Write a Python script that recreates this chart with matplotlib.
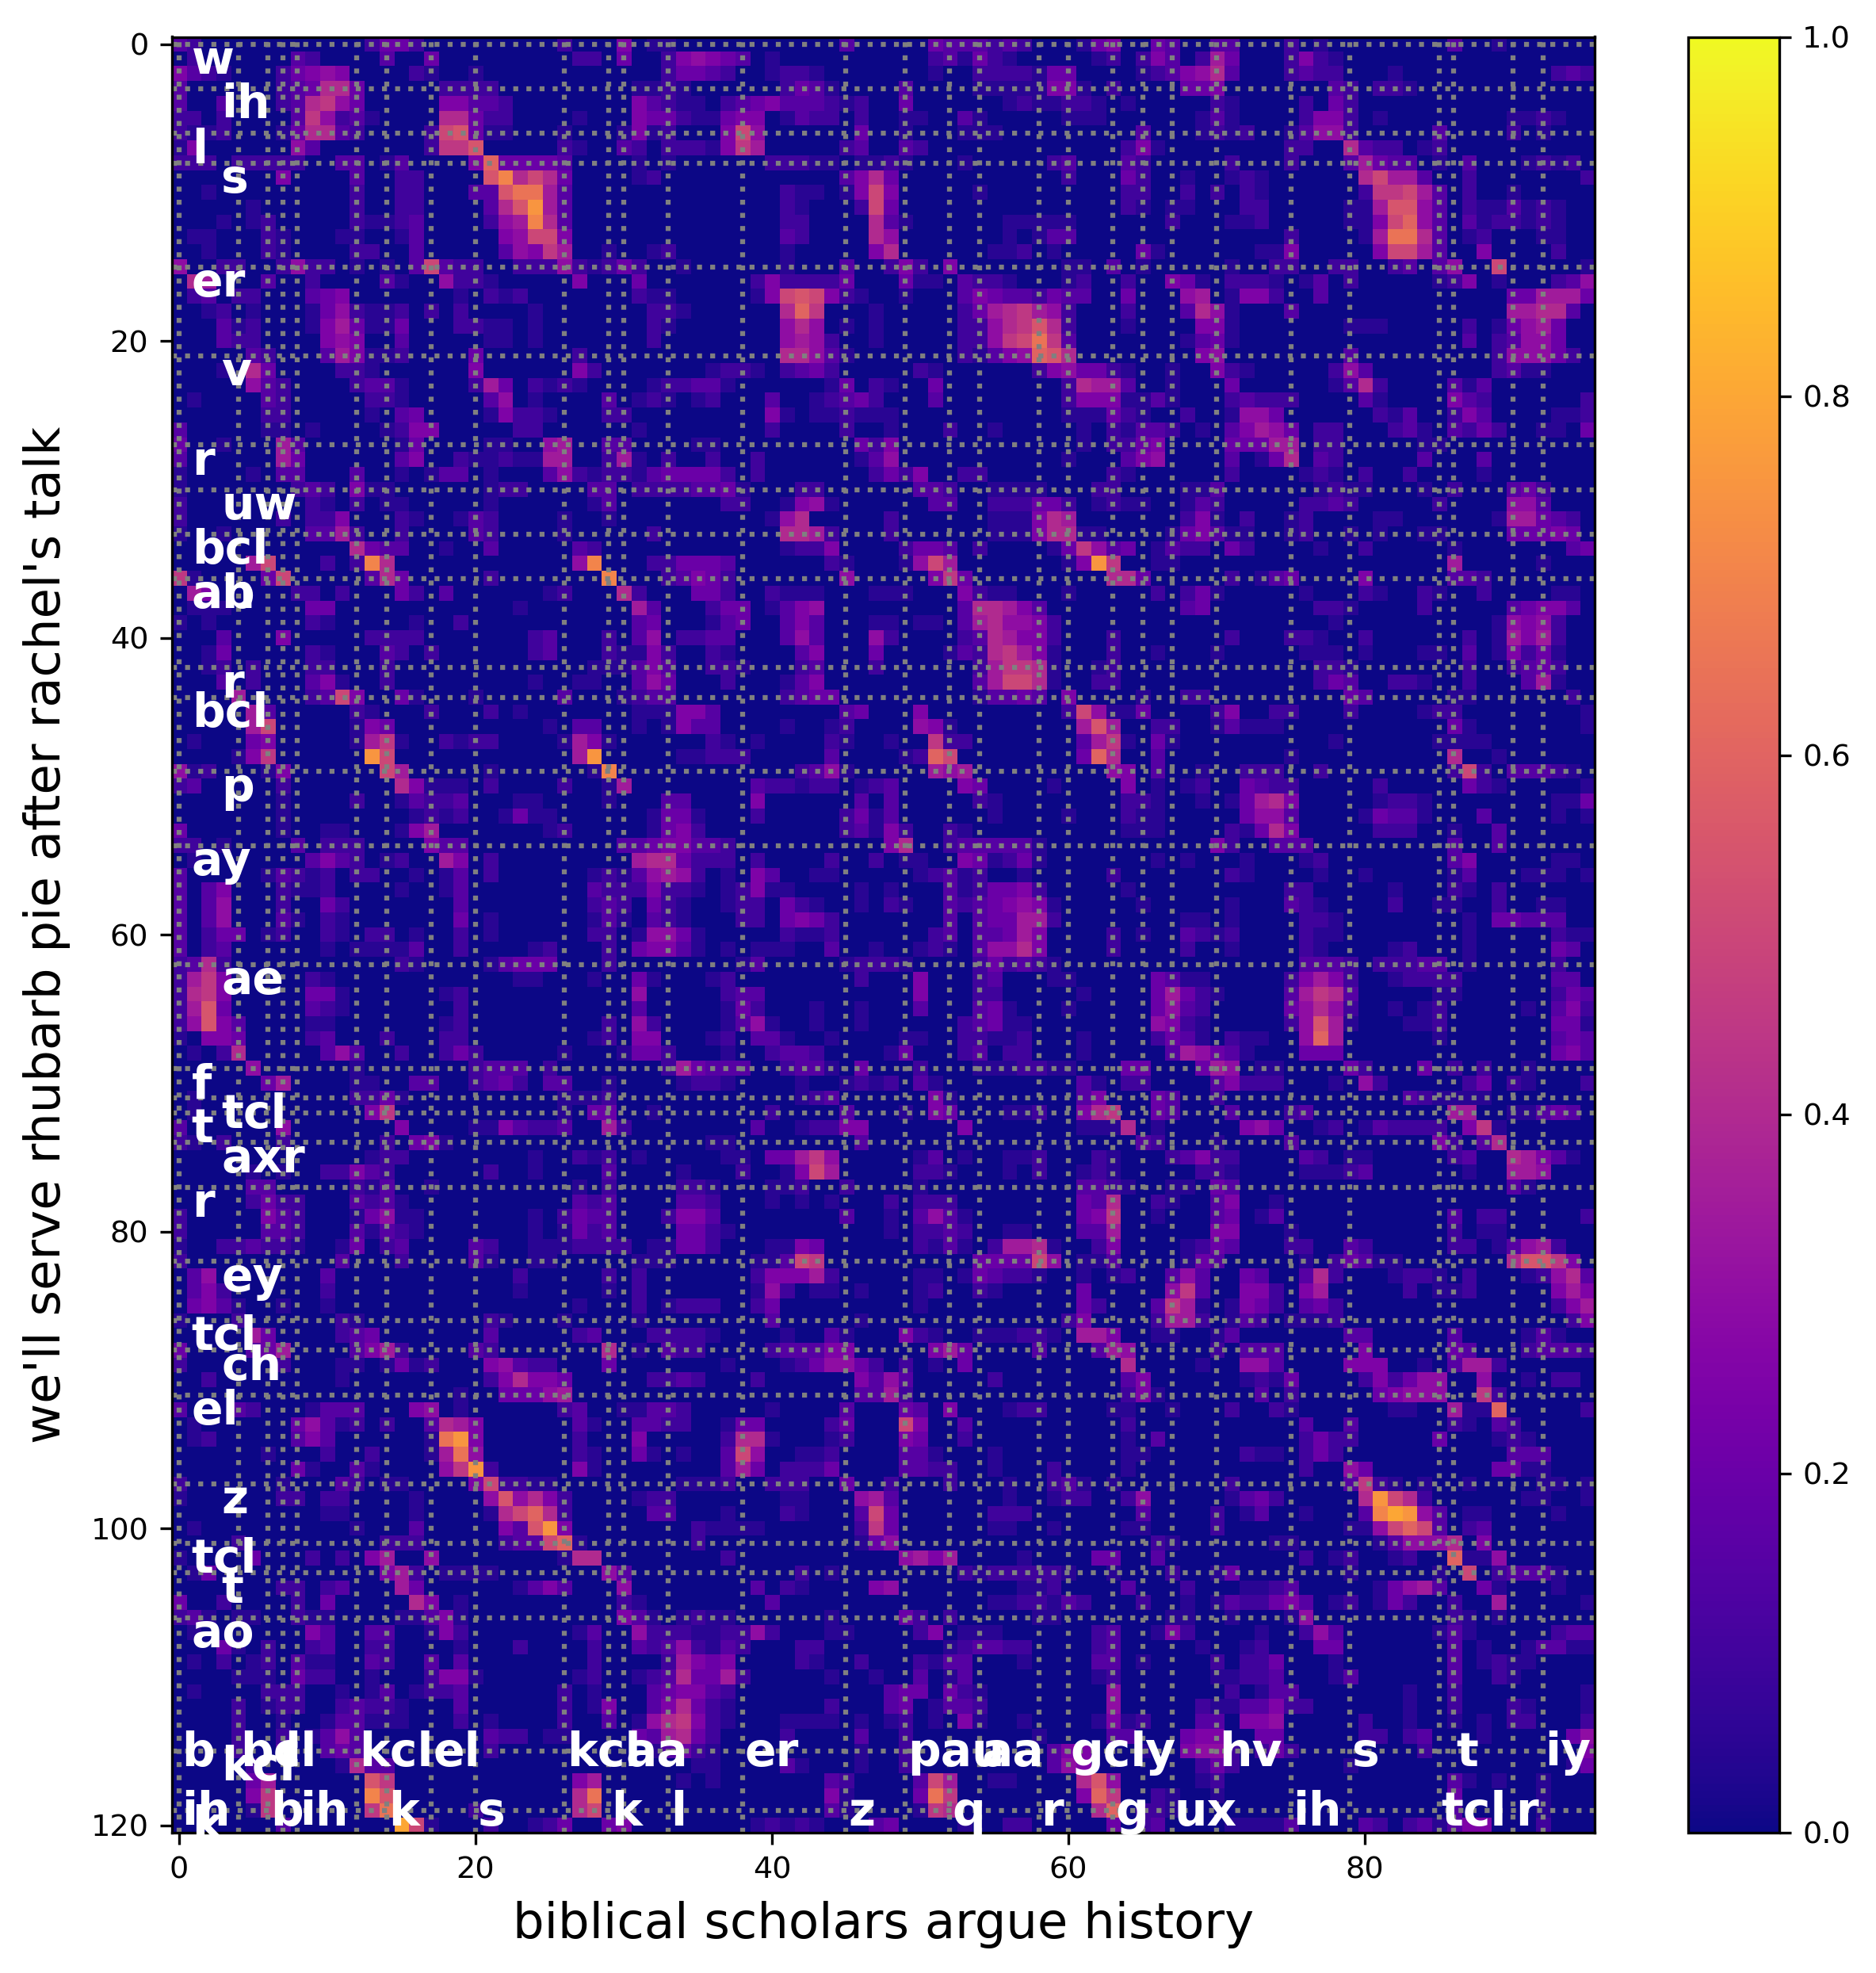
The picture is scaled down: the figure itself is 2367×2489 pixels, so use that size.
import matplotlib
matplotlib.use('Agg')
import matplotlib.pyplot as plt
import numpy as np

# alignment grid, one line per row: "col:levels", each level a base-36 digit in steps of 0.05
cell_levels = [
    "0:3 1:2 13:2 14:44 16:2 26:2 30:5 32:11 45:3 51:433 54:32 56:32 61:1 62:45 66:43 70:33 75:2 77:1 86:3 89:1",
    "1:2 8:32 14:3 17:4 27:22 30:4 33:25654 38:3 40:1 51:23 53:14 55:21 62:12 63:2 65:25 67:3 69:27 71:4 75:25 77:2 78:1",
    "0:5321 7:2456 11:5 16:2 17:1 20:1 33:2 34:443 37:2 40:1 41:221 51:1 54:2222 58:144 65:1 66:2 67:3 68:568 71:3 75:2 76:3 77:22 82:1 93:232",
    "0:3 7:234 10:88 12:4 18:2222 31:11 33:2 34:1 41:243 44:1 49:3 54:11111 59:55 61:1 63:2 68:445 78:32 81:22 83:1",
    "0:3 3:3 7:23 9:896 12:4 18:55 20:332 31:5 32:32 34:11 37:2345 41:333 44:21 46:2 49:4 56:1 57:21 59:122 62:1 64:1 70:21 76:2 78:42",
    "0:22 3:2 8:3 9:96 11:23 13:1 18:88 20:42 22:2 27:1 31:5 32:44 34:211 37:455 41:1 42:322 46:2 49:11 53:31 60:111 62:1 69:131 76:2 77:552 81:1 90:11 92:21",
    "0:2112 7:1 8:488 11:32 17:2 18:ab4 21:11 26:1 30:15 32:1 33:2 37:5a6 46:4 49:1 53:111 65:3 69:121 72:2 75:1 76:3 77:662 85:3 90:2 92:1",
    "0:15 8:63 17:2 18:99b 26:2 27:1 30:32 33:2221 37:597 45:23 49:32 64:25 66:1 75:22 79:83 81:22 84:1 85:2",
    "0:222 4:22222 11:33 14:1 15:3 20:5c4444 26:3 31:1 33:1 40:222 43:11 46:11 48:21 53:1 59:23 64:32 71:2 75:2 79:3743 83:3 85:1 87:3 91:121 94:2",
    "7:5 12:3 15:22 21:be8a84 31:12 45:3584 60:2 64:42 68:1 71:1 72:21 80:8a77 84:3 87:2 95:2",
    "2:1 12:2 15:22 20:33bdd7 26:3 41:211 45:15a5 54:1 64:22 68:2 70:2 72:21 80:299a 84:73 87:2 90:1",
    "5:1 12:2 15:22 21:38bf7 26:3 41:21 46:2a4 64:21 67:11 72:22 79:11 81:7bb6 85:3 87:211 90:3121",
    "3:1 5:12 12:211 15:23 21:26 23:7e8 26:3 41:22 47:831 56:111 59:11 67:2 71:112 79:11 81:5ac6 85:3 87:312 90:2121",
    "1:11 6:21 11:11 15:13 22:56aa5 41:32 47:86 56:1 58:133 75:2 80:1 81:7dd8 85:3 87:12 92:11",
    "2:1 6:21 12:22 16:3 22:36597 29:1 32:12 41:1 47:58 55:112 59:1 65:41 73:11 75:5 81:5aa7 85:3 88:5 93:2",
    "0:6 3:22 7:262 10:2 12:1 14:1 16:3a322 23:222627 28:1 29:2 30:4 31:2 34:1 41:1 45:3 48:252 52:5 60:11 63:3 65:1 71:1 74:22 78:22 82:23 85:36 89:a 95:1",
    "1:87 6:3 9:2 14:31 18:6221 27:5 31:4 39:25222 44:24 49:41 51:1 53:3221 60:12 64:2 67:54 69:1 71:222 74:1 76:13 79:2 85:125 89:1 93:236",
    "1:23 4:22 9:345 19:1 21:212 31:211 39:15aba5 45:21 49:1 53:35433 58:2433 64:4 68:67 71:1 72:552 77:3 90:4477 94:74",
    "2:12 5:1 9:1462 13:112 17:2 19:2 24:1 32:22 34:1 41:8c9 47:1 53:247897 59:62 64:2 68:386 71:1 75:3 90:7788 94:3",
    "3:31 5:2 9:1574 13:114 19:221 22:1 24:1 32:21 41:686 45:1 47:1 53:2268 57:9b 59:82 64:1 69:551 79:111 87:2 89:1 90:4674",
    "3:32 5:2 10:565 15:3 21:11 24:1 32:2 41:6762 47:1 53:226 56:9ad 59:93 68:134 71:1 87:3 89:2 90:3664",
    "5:32 10:375 13:11 15:2 20:4 27:2 41:8863 45:1 53:2135 57:6cb8 69:56 79:3 89:26664 94:2",
    "3:1 5:84 11:2 12:21 20:5 27:52 36:1221 41:2342 50:21 58:2564 62:4 63:2 64:1 67:1 70:521 78:263 89:2311",
    "5:632 12:2331 20:27 22:4 24:212 27:1 32:12233 37:1 44:14 47:21 51:4 60:2877 64:3 67:1 71:4 78:1 79:382 86:313",
    "1:1 6:32 13:221 21:36 24:1 29:3 31:12 33:1 35:12 40:3 43:1234 47:2 51:3 60:2555 64:113 67:1 71:23222 80:31 86:532 95:2",
    "6:22 13:1 15:34 21:15 23:221 29:2 30:2 40:5 41:1 43:11211 48:1 60:1112 63:4 64:21 68:2 71:1664 81:2 82:13 86:253 93:112",
    "0:3 6:11 9:1 14:125 17:5 23:22 31:1 40:2 45:2 48:1 52:2 55:1 61:1 63:2 64:1 65:33 67:2 69:1 71:35764 77:22 82:23 84:1 86:3 87:2 88:42 92:11 95:4",
    "0:4 3:1 7:73 15:14 21:11 25:67 29:33 35:11 46:425 61:1 63:2 64:245 71:4447 75:7 77:22 84:11",
    "0:3 7:74 15:35 19:2112 23:11 25:77 29:27 31:1 33:2 36:2 39:2 46:136 60:1 64:356 71:3 73:148 77:32 84:3 88:3",
    "0:1 5:1 7:33 12:3 15:1 17:133 21:1 25:3621 29:22 31:1 32:34444 37:2 39:2 47:2425 53:22 63:21 71:2 76:121 80:2 83:2 88:1",
    "0:1 8:232 12:511 21:122 28:33 31:2 32:222333 37:41 42:22 50:332 55:1111 62:22 68:113 77:12 79:1 80:1 84:1 86:2 90:342",
    "0:2 9:21 12:2 14:11 21:1 28:13 37:22 41:1561 51:33 55:2224 59:42 62:12 64:11 68:132 76:223 79:2 85:2 90:663",
    "0:2 7:2 9:225 15:21 19:132 26:1 29:1 40:168 48:2 55:111 58:587 68:251 72:2 75:12 81:11 89:1 90:77432",
    "0:1 3:1 9:337 12:2 15:2 20:32 26:1 32:2 41:8872 48:2 55:111 58:5887 61:1 62:1 67:14531 72:1 75:12 79:1 81:1 84:11 90:44454",
    "12:843 15:3 18:1 21:3 27:32 41:1225 49:2443 54:2 59:149634 66:1 67:322 71:42 77:1 80:2 86:1 94:34",
    "5:7a 10:2 12:2e8 27:6e 32:22444 37:3 44:21 49:1 50:6a7 60:15f9 66:11 86:7 92:1",
    "0:91 6:4a 13:384 21:2 29:e 33:23542 45:6 51:594 63:884 71:2 73:134 80:5 86:332",
    "1:75 8:22 11:2 15:42 18:3 25:12 30:82 35:442 40:2111 47:111 53:5211 60:1 66:2 68:241 76:1 80:21 84:21 88:2 93:11",
    "1:111 9:44 23:1 31:73 36:244 40:1356 53:388753 68:34 77:221 84:2 90:34553",
    "0:1 2:1 9:21 16:1 19:2 31:34 36:134 41:353 47:11 50:11 53:378665 59:2 78:1 89:1 90:6562",
    "3:3 7:5 13:2222 24:23 29:2 31:36 34:22 36:33 41:363 47:62 53:23875 58:52 63:2 71:2 75:221 80:2 87:2 89:1 90:7572",
    "2:14 9:21 14:32 17:2 24:23 29:211 32:5 33:2 36:21 42:35 47:4 52:13 54:2 55:8975 59:1 63:2 66:1 70:1 76:111 80:1 84:11 87:3 89:1 90:5241",
    "2:12 5:2 9:22 14:2 28:1 29:1 30:1 31:35 33:3 36:221 42:23 47:2 54:27 56:9 57:98 59:1 62:12 77:221 87:2 90:2342",
    "3:3 5:2 9:35 11:1 14:2 24:1 27:11 31:364 37:2 41:135 54:37 56:aa8 59:1 62:22 77:243 82:221 87:2 91:371",
    "4:7 9:23a5 15:41 20:1 26:3 30:1 31:23 33:3 41:2344 54:133 57:43 60:5 65:1 68:22 79:43 86:11 94:2",
    "5:73 12:21 17:2 21:2 23:1 31:11 33:1 34:55 36:3 45:34 50:5 60:2a61 64:14 70:25 74:22 79:2 84:122 95:1",
    "5:7a 12:15 14:4 25:1 27:33 31:1 33:1 34:533 41:1 44:12 50:65 52:1 61:7b7 66:22 70:13 72:111 86:41 95:1",
    "1:1 5:45 12:17 14:9 15:1 18:212 21:2 26:1 27:751 36:21 39:1 44:21 48:1 51:922 61:379 64:1 66:41 78:1 85:1111",
    "4:1 5:59 13:fa 27:7f 34:112 37:22 38:2 44:3 49:12 51:ca 61:4c8 66:3 75:1 86:8 89:1",
    "0:612 6:1 7:5 14:a7 21:1 28:1e 42:236 45:1 51:767 63:65 66:3 69:1 72:222 77:2 86:2a2 90:3332 94:1",
    "0:23 7:2 15:851 18:11 21:2 26:2 29:17 39:3221 43:22 46:123 53:54 59:1 64:5 66:1 68:12 72:4322 81:2 87:421 95:1",
    "7:1 12:2 15:1322 19:3 23:1 24:1 29:1 33:33 39:5 46:3 48:3 54:21 64:221 69:1 71:1 72:4785 81:1 82:22 84:1 93:11 95:4",
    "7:1 16:1212 22:1 23:41 25:1 32:144 35:1 39:2 45:24 47:1 48:3 55:1 60:1 64:211 72:4663 80:1 81:4 82:33 84:1 88:3 93:1 95:1",
    "0:4 7:1 10:11 15:157 25:12 32:145 35:2 45:23 47:1 48:52 52:2 53:1 64:111 71:2 72:1 73:485 81:2 82:22 86:1 89:3",
    "0:22 3:1 8:3 10:222 17:533 30:3 31:3 32:45533 37:2 48:58 52:2 53:333 56:33 58:1 70:5 71:2 74:333 86:3 89:3",
    "1:1 9:353 12:2 14:1 15:2 18:75 21:2 31:7 32:884222 39:2 44:2 47:2 49:11 53:54 55:1 56:24 58:1 66:1 68:1 72:1 76:1 77:2 86:35 93:11",
    "0:3 6:1 7:32 9:12 12:22 16:1 18:13 21:2 28:121 31:3 32:676 35:2 37:1 39:53 43:11 50:123 53:12 57:1 63:2 71:21 77:1 80:1 86:13 91:111 95:1",
    "0:3 2:35 7:211 10:2 15:1 18:13 28:322 31:25 33:2 34:2 35:1 37:12 39:5 40:1 41:1 46:1 48:1 52:3 53:12 55:445 58:2 64:1 75:22 82:1 86:21 89:2",
    "0:3 2:36 7:2 10:42 19:3 28:232 32:42 34:1 37:12 39:2 41:421 46:1 48:21 52:32 54:34 56:565 59:1 65:1 71:1 75:32 77:1 82:2 85:11 89:2 92:11",
    "0:3 2:36 7:31 10:21 19:4 21:1 28:131 32:321 38:22 41:4 42:5 43:42 52:3 54:34 56:4 57:77 59:2 68:11 71:1 76:221 87:1 89:44333",
    "0:3 2:244 6:1 7:2 10:21 13:22 16:1 19:2 21:1 28:2 29:2 31:1 32:664 35:1 41:2 42:1 43:12 51:23 54:33 56:4 57:75 63:2 65:1 68:321 71:2 76:211 87:1 93:211",
    "0:3 2:23 10:1 12:1 13:111 16:3 19:2 24:12 29:2 31:4 32:553 35:1 37:1 39:111 44:3 47:1 50:121 54:36 56:6 57:85 63:2 68:2 71:1 76:21 82:12 87:1 93:43",
    "0:2382 15:2 16:1 21:1 22:3444 29:2 38:13 45:1222 49:1 54:2423 58:21 76:3332 81:222 84:33 87:1 93:2",
    "0:279 3:5 9:21 23:11 28:1 31:41 36:12 46:2 50:5 54:23 59:11 66:43 68:11 75:2 76:5752 82:12 84:222 93:33",
    "0:289 3:5 9:441 18:12 31:6 37:233 50:5 54:22 61:1 66:47421 75:3 76:7983 85:11 93:243",
    "0:27b 3:4 9:321 19:2 31:3 37:142 43:1 46:1 50:3 54:341 60:1 66:4 67:632 75:4 76:6862 82:1 84:12 91:1 93:352",
    "0:26b 3:53 9:11 18:12 29:2 31:62 37:1 38:3 39:61 43:1 46:1 53:2341 57:1 66:6521 75:26 77:b7 79:1 83:112 93:441",
    "0:1 2:554 9:23 14:2 18:22 28:12 31:55 36:12 39:331 44:1 49:11 53:2211 57:2 61:1 66:2431 71:211 76:6 77:c7 85:1 93:343",
    "1:1 3:28 10:363 15:2 18:242 26:1 30:1 31:44 33:2 37:1 40:2332 48:14 53:23 56:22 61:1 67:37643 72:1 76:444 93:453",
    "5:6 12:1 20:2333 25:2 33:27433 38:3 41:233 44:1 46:4 50:2 54:1112 58:211 64:44 69:476 73:11 79:42 84:4 86:2 88:2 91:1",
    "6:4 7:7 12:11 16:33 20:2342 25:33 29:1 34:1221 42:1 45:121 48:2 50:31 61:31 64:22 70:352 73:22 78:1 80:6 81:2 87:24 90:21 95:2",
    "1:1 12:2241 26:111 29:2 42:123 51:51 61:35 66:43 70:2 83:3 84:2111 88:1",
    "1:1 13:59 26:1 28:44 32:1 40:2 45:3 49:1 51:54 56:112 61:58a 63:9 66:43 71:3 75:23 86:77 90:113 93:43",
    "0:3 7:6 15:5 20:1 21:15 23:3223 29:72 39:3 42:1 43:22 45:55 53:5 61:1 62:11 64:8 66:1 72:564 77:12 80:13 82:222 85:2 87:59 89:1",
    "0:21 3:2 7:2 14:2 16:45 18:1 36:11 46:3 65:32 70:1 75:3 85:52 88:38",
    "13:1 14:22 24:1 27:212 31:1 37:11 40:447 43:96 50:13 53:1 56:11 58:2 62:22 63:1 67:2352 71:2 76:32 79:11 86:23 90:87531",
    "5:1 7:1 10:225 13:32 21:2 24:1 29:3 34:1 38:2 41:15a7 50:221 56:1 58:2 61:122 63:1 69:221 76:111 79:23 87:1 90:776",
    "5:33 12:213 17:1 27:1 29:2 34:221 40:112 45:2 50:1 61:333 63:2 64:1 67:11 70:43 90:31",
    "5:24 7:22 12:323 15:1 27:323 34:332 40:1 42:1 44:1 48:2 50:222 61:438 63:8 66:21 70:35 74:1",
    "0:2 6:532 12:146 15:11 24:1 26:243 29:3 33:2 34:553 45:3 48:1 50:363 53:1 61:459 66:1 70:34 73:13 86:3 88:22 95:2",
    "0:2 6:332 12:313 15:21 24:1 26:142 29:3 34:442 37:1 48:1 50:223 53:2 56:11 61:337 70:55 75:1 86:2 88:11",
    "0:1 3:22322 8:1 11:14 14:23 20:32 24:111 27:2222 32:11 34:44 36:2 40:11 42:54 50:2131 55:2 56:7 57:781 62:25 68:124 71:3 75:22 79:32 86:22 89:13 91:672",
    "0:2 11:3 15:2 20:31 24:11 31:1 32:11 39:113 42:a9 54:4444 58:a6 61:113 68:1 69:43 76:1 78:243 81:11 90:8bb95",
    "1:36 10:3 23:2 29:2 31:2 39:2555 43:72 50:11 53:14322 58:1 61:1 63:1 64:2 67:36 69:3 72:43 76:38 78:2 82:1 83:2 84:2 85:1 87:2 91:12 93:683",
    "1:35 3:2 10:2 23:1 29:1 31:2 39:16 41:2 43:11 46:1 50:12 54:21 61:4 67:693 72:552 76:57 83:2 85:11 87:2 93:575",
    "1:453 4:1 7:1 10:1 27:1 31:2 33:1222 39:24 50:1 61:42 66:3 67:97 69:1 71:1 72:542 76:342 93:257",
    "0:1 4:2 11:21 21:2 22:1 26:1 31:1 40:3 46:1 60:25 66:2772 71:132 75:1112 94:25",
    "5:74 11:234 21:3 27:23 32:2 33:222 36:1 41:1 44:31 49:5 50:2 51:1 54:11 56:122 59:1 61:775 66:11 70:13 79:33 86:3 91:131",
    "0:4 5:347 12:3 13:57 15:2 20:32 29:8 31:1 33:3 34:22 40:2 41:333 44:55 51:574 58:3 62:37 64:6 70:2 72:33 74:3 80:5 86:43 91:23332",
    "0:2 7:2 11:11 14:1 15:412 21:563 24:22 29:4 37:1 41:1 42:2 43:466 46:42 49:2 51:1 53:4 64:8 69:1 72:663 79:555 84:1 86:377 89:2",
    "2:2 11:1 21:258 24:55 26:4 32:22 34:32 39:2 46:536 49:3 55:2 64:35 72:1 73:21 75:4 80:25 82:2 83:466 88:6 91:1 93:22",
    "19:1 22:444 25:67 46:33 48:72 64:25 66:1 73:3 75:2 81:456 84:6 85:6 88:92",
    "0:3 4:32 9:1333 16:56 19:1 26:23 30:1 31:1 32:33 34:2 40:1 45:3 49:43 52:5 56:1 57:22 63:1 64:1 67:1 71:2 74:21 82:11 86:7 87:11 89:c 95:2",
    "1:1 8:46312 14:2 17:387 20:5 27:31 31:33 33:22 37:144 44:24 49:a5 53:3 64:2 76:3 79:3 86:21 89:32",
    "1:12 8:353 17:1df5 27:2 31:5 37:288 40:1 44:12 49:54 53:2 64:1 66:3 76:24 78:22 85:4 89:12 91:1",
    "6:1 10:2 13:2 17:17d6 27:21 31:41 34:1 37:3a6 42:11 44:2 49:331 55:1 64:11 72:211 76:242 90:333",
    "8:41 12:31 18:69f2 27:51 37:374 41:222 44:4 49:3322 55:1 59:2 64:1 76:2 79:64 89:44 91:11",
    "0:2 7:1 11:32 14:11 20:5a2211 34:1112 40:222 45:4 48:2 52:2 56:1 59:231 63:1 71:2 79:3921 84:1 87:1 92:11 95:1",
    "0:1 7:22 10:22 16:1 21:6b685 26:2 31:1 32:22 41:11 46:673 56:1 59:122 64:26 71:1 72:342 80:8fa8 84:2 91:11 95:1",
    "10:11 16:1 21:18ac82 32:33 37:1 41:21 46:3a4 55:222 65:3 70:2 72:13 76:1 80:3egf6 85:3 87:11 93:1",
    "1:1 12:1 16:3 22:53bf5 35:2111 39:1 46:294 55:11 59:1 64:11 70:2 79:116aca3 87:23",
    "4:2 14:222 22:233ac1 35:2 46:146 66:21 74:11 81:136668 88:5",
    "0:1 5:4 9:2 11:2 13:57 17:6 26:18 28:8 37:2 49:6757 57:1 62:44 66:3 76:2 78:12 82:12 86:c11 89:6",
    "1:14 14:572 18:1111 29:63 42:2 44:1 53:21 55:2222 59:21 63:1 67:2 70:14 79:1 85:1 87:a 89:2333 93:1",
    "7:22 10:23 15:74 23:135 26:3 30:6 39:3 41:21 47:56 57:112 64:3 68:2 72:1123 81:1467 85:3 88:41 93:1",
    "0:4 3:2 8:2 10:4 16:85 19:1 30:21 40:3 55:1122 59:1 60:32 65:2 68:1 70:1 71:322455 76:3 78:12 81:142 86:2 89:7 95:1",
    "0:231 4:11 8:211 15:1135 19:1 30:53 32:1 34:1211 44:1 49:42 52:2 58:11 67:11 71:1 75:1 76:6 86:21 89:1",
    "1:1 9:53 13:33 17:152 27:13 31:6222 35:1 36:122 39:62 44:11 50:25 53:111 62:23 66:15 68:2 73:1 76:263 85:131 93:233",
    "3:41 6:2 9:23 13:22 19:1 23:2 28:2 31:3 32:236 35:2 36:132 42:22 52:123322 62:23 69:1 72:12 77:44 86:3 88:1 91:1 92:331 95:1",
    "1:1 3:2 5:12 8:311 13:32 17:3 19:3 28:2 33:2 34:7545 42:21 46:2 50:21 52:33 57:1 62:33 65:1 70:2 72:224 78:1 86:3 88:1 89:211",
    "4:111 8:422 13:1 17:255 20:1 27:12 31:1 32:238 35:447 38:2 44:1 47:1 50:3 52:13 62:12 70:1 71:1 72:223 78:13 86:3 89:21",
    "1:1 6:222 11:1 13:13 16:1223 26:2 28:1 32:345 35:5 36:32 48:344 52:421 63:6 71:2 73:133 83:1 86:2 95:1",
    "4:2 6:122 11:23 13:221 19:3 26:2 28:1 29:5 32:358 35:4 36:21 44:2 48:34 51:133 54:2 63:6 69:2 70:11 72:33 74:5 75:22 83:1 86:2 90:21 95:1",
    "4:2 7:1 10:1 11:33 13:111 19:2 21:1 26:2 29:3 31:1 32:689 35:5 36:21 41:1111 46:1 48:12 51:1 53:51 57:1 62:15 64:12 69:33 72:556 80:2 83:1 86:1 88:1 90:22 95:2",
    "4:2 7:2 9:136 12:3 21:322 25:11 31:4 32:378 35:4 36:2 41:2 46:3 49:2 58:1 63:33 68:455 73:44 80:22 83:23 88:1 94:46",
    "4:2 7:3 10:3 11:4 12:3 21:2 32:1 33:34 35:2 36:1 46:1 49:2 59:35 61:5 65:1 68:5662 73:24 75:2 84:2 95:5",
    "5:2 11:183 14:3 35:11 41:31 46:1 49:2 59:365 69:242 79:1 94:14",
    "5:47 13:b9 27:57 34:1 36:1 44:32 50:3a7 55:11 61:8b6 69:12 86:31 89:1 92:1",
    "5:59 13:eb 27:8d 44:51 50:4d9 61:5c7 63:9 66:21 70:1 86:4 92:1",
    "5:19 13:9d 20:2 27:8a 44:31 50:19 52:8 62:8c 65:221 86:3 92:1",
    "7:3 15:ga1 21:2 24:124 29:45 39:1212 43:1 47:34 53:1 56:22 63:4 65:23 71:1111 75:3 80:32 83:23 85:1 86:355 92:2",
]

# phone labels down the side: (row the phone starts on, phone)
row_phones_a = [(0, 'w'), (6, 'l'), (15, 'er'), (27, 'r'), (33, 'bcl'), (36, 'ah'), (44, 'bcl'), (54, 'ay'),
                (69, 'f'), (72, 't'), (77, 'r'), (86, 'tcl'), (91, 'el'), (101, 'tcl'), (106, 'ao'), (119, 'k')]
row_phones_b = [(3, 'ih'), (8, 's'), (21, 'v'), (30, 'uw'), (36, 'b'), (42, 'r'), (49, 'p'), (62, 'ae'),
                (71, 'tcl'), (74, 'axr'), (82, 'ey'), (88, 'ch'), (97, 'z'), (103, 't'), (115, 'kcl')]

# phone labels along the bottom: (column the phone starts on, phone)
col_phones_a = [(0, 'b'), (4, 'bcl'), (7, 'l'), (12, 'kcl'), (17, 'el'), (26, 'kcl'), (30, 'aa'), (38, 'er'),
                (49, 'pau'), (54, 'aa'), (60, 'gcl'), (65, 'y'), (70, 'hv'), (79, 's'), (86, 't'), (92, 'iy')]
col_phones_b = [(0, 'ih'), (6, 'b'), (8, 'ih'), (14, 'k'), (20, 's'), (29, 'k'), (33, 'l'), (45, 'z'),
                (52, 'q'), (58, 'r'), (63, 'g'), (67, 'ux'), (75, 'ih'), (85, 'tcl'), (90, 'r')]

row_bounds = [0, 3, 6, 8, 15, 21, 27, 30, 33, 36, 42, 44, 49, 54, 62, 69, 71, 72, 74, 77, 82, 86, 88, 91, 97,
              101, 103, 106, 115, 119]
col_bounds = [0, 4, 6, 7, 8, 12, 14, 17, 20, 26, 29, 30, 33, 38, 45, 49, 52, 54, 58, 60, 63, 65, 67, 70, 75,
              79, 85, 86, 90, 92]

grid = np.zeros((121, 96))
for r, line in enumerate(cell_levels):
    for tok in line.split():
        col, levels = tok.split(':')
        for i, ch in enumerate(levels):
            if int(col) + i < 96:
                grid[r, int(col) + i] = int(ch, 36) * 0.05

W, H = 2367, 2489
fig = plt.figure(figsize=(W / 300, H / 300), dpi=300)
ax = fig.add_axes([216.5 / W, 1 - 2312 / H, (2012 - 216.5) / W, (2312 - 46.5) / H])
cax = fig.add_axes([2130 / W, 1 - 2312 / H, 115 / W, (2312 - 46.5) / H])

im = ax.imshow(grid, cmap='plasma', vmin=0, vmax=1, aspect='auto', interpolation='nearest')
ax.set_xticks(range(0, 81, 20))
ax.set_yticks(range(0, 121, 20))
ax.tick_params(labelsize=9.2)

for y in row_bounds:
    ax.axhline(y, color='gray', linestyle=':', linewidth=1.5)
for x in col_bounds:
    ax.axvline(x, color='gray', linestyle=':', linewidth=1.5)

for i, phones in enumerate([row_phones_a, row_phones_b]):
    for y, name in phones:
        ax.text(0.85 + 2 * i, y + 2, name, color='white', fontsize=14, fontweight='bold')
for x, name in col_phones_a:
    ax.text(x + 0.15, 116, name, color='white', fontsize=14, fontweight='bold')
for x, name in col_phones_b:
    ax.text(x + 0.15, 120, name, color='white', fontsize=14, fontweight='bold')

ax.set_xlabel('biblical scholars argue history', fontsize=15, labelpad=5)
ax.set_ylabel("we'll serve rhubarb pie after rachel's talk", fontsize=15, labelpad=6)

cb = fig.colorbar(im, cax=cax)
cb.set_ticks([0, 0.2, 0.4, 0.6, 0.8, 1.0])
cb.ax.tick_params(labelsize=9.2)

fig.savefig('out.png', dpi=300)
